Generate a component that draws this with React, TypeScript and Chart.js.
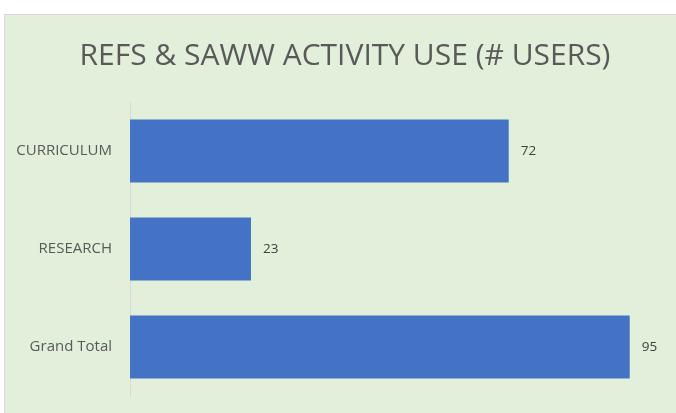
import React, { useEffect, useRef } from "react";
import { Chart, registerables } from "chart.js";

Chart.register(...registerables);

const categories = ["CURRICULUM", "RESEARCH", "Grand Total"];
const users = [72, 23, 95];
const titleText = "REFS & SAWW ACTIVITY USE (# USERS)";

const valueLabels = {
  id: "valueLabels",
  afterDatasetsDraw(chart: any) {
    const { ctx } = chart;
    const meta = chart.getDatasetMeta(0);
    ctx.save();
    ctx.font = "13.5px 'Open Sans'";
    ctx.fillStyle = "#404040";
    ctx.textAlign = "left";
    ctx.textBaseline = "middle";
    meta.data.forEach((bar: any, i: number) => {
      ctx.fillText(String(users[i]), bar.x + 12, bar.y);
    });
    ctx.restore();
  },
};

const drawTitle = {
  id: "drawTitle",
  afterDraw(chart: any) {
    const { ctx } = chart;
    ctx.save();
    ctx.font = "30px 'Open Sans'";
    ctx.fillStyle = "#595959";
    ctx.textAlign = "center";
    ctx.textBaseline = "alphabetic";
    ctx.fillText(titleText, 340, 50);
    ctx.restore();
  },
};

export default function App() {
  const ref = useRef<HTMLCanvasElement>(null);
  useEffect(() => {
    const chart = new Chart(ref.current!, {
      type: "bar",
      data: {
        labels: categories,
        datasets: [
          {
            data: users,
            backgroundColor: "#4472C4",
            borderWidth: 0,
            categoryPercentage: 1,
            barPercentage: 0.645,
          },
        ],
      },
      options: {
        indexAxis: "y",
        animation: false,
        responsive: false,
        layout: { padding: { left: 0, right: 20, top: 87, bottom: 17 } },
        plugins: {
          legend: { display: false },
          tooltip: { enabled: false },
          title: { display: false },
        },
        scales: {
          x: { display: false, min: 0, max: 100 },
          y: {
            afterFit(scale: any) {
              scale.width = 125;
              scale.paddingTop = 0;
              scale.paddingBottom = 0;
            },
            grid: { display: false, drawTicks: false },
            border: { display: true, color: "#D9D9D9", width: 1 },
            ticks: {
              color: "#595959",
              font: { family: "'Open Sans'", size: 15 },
              padding: 18,
            },
          },
        },
      },
      plugins: [valueLabels, drawTitle],
    });
    return () => chart.destroy();
  }, []);

  return (
    <div style={{ position: "absolute", left: 0, top: 0, width: 676, height: 413, background: "#fff" }}>
      <div
        style={{
          position: "absolute",
          left: 4,
          top: 14,
          width: 672,
          height: 399,
          background: "#E2EFDA",
          borderLeft: "1px solid #D9D9D9",
          borderTop: "1px solid #D9D9D9",
          boxSizing: "border-box",
        }}
      >
        <canvas ref={ref} width={671} height={398} style={{ display: "block" }} />
      </div>
    </div>
  );
}
